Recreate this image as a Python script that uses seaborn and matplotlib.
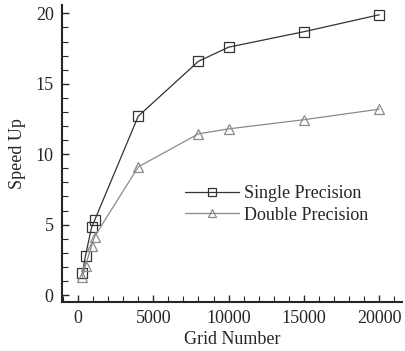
import pandas as pd
import seaborn as sns
import matplotlib.pyplot as plt
from matplotlib.ticker import MultipleLocator

grid = [300, 500, 900, 1100, 4000, 8000, 10000, 15000, 20000]
single = [1.6, 2.8, 4.8, 5.3, 12.7, 16.6, 17.6, 18.7, 19.9]
double = [1.3, 2.1, 3.5, 4.15, 9.1, 11.45, 11.8, 12.45, 13.2]
labels = ['Single Precision', 'Double Precision']
colors = ['#333333', '#8a8a8a']

df = pd.DataFrame({
    'Grid Number': grid * 2,
    'Speed Up': single + double,
    'Precision': [labels[0]] * len(grid) + [labels[1]] * len(grid),
})

sns.set_style('ticks')
plt.rcParams['font.family'] = ['Liberation Serif', 'DejaVu Serif']
plt.rcParams['xtick.direction'] = 'in'
plt.rcParams['ytick.direction'] = 'in'

fig = plt.figure(figsize=(4.05, 3.51), dpi=100)
ax = fig.add_axes([0.153, 0.14, 0.84, 0.846])

sns.lineplot(data=df, x='Grid Number', y='Speed Up', hue='Precision', style='Precision',
             markers=['s', '^'], dashes=False, palette=colors,
             markerfacecolor='none', markersize=7.5, markeredgewidth=0.9, linewidth=0.9,
             ax=ax)
for line, c in zip(ax.get_lines(), colors):
    line.set_markeredgecolor(c)

ax.set_xlim(-1063, 21520)
ax.set_ylim(-0.48, 20.6)
ax.xaxis.set_major_locator(MultipleLocator(5000))
ax.xaxis.set_minor_locator(MultipleLocator(1000))
ax.yaxis.set_major_locator(MultipleLocator(5))
ax.yaxis.set_minor_locator(MultipleLocator(1))
ax.tick_params(which='major', length=5, width=1, labelsize=13, pad=6)
ax.tick_params(which='minor', length=4, width=0.8)
sns.despine(ax=ax)
for s in ['left', 'bottom']:
    ax.spines[s].set_linewidth(1.5)

ax.set_xlabel('Grid Number', fontsize=13, labelpad=3)
ax.set_ylabel('Speed Up', fontsize=13, labelpad=7)

leg = ax.legend(frameon=False, fontsize=13, handlelength=3, handletextpad=0.25,
                labelspacing=0.25, borderpad=0, borderaxespad=0,
                loc='center left', bbox_to_anchor=(0.362, 0.328), markerscale=0.8)
for h, c in zip(leg.legend_handles, colors):
    h.set_markerfacecolor('none')
    h.set_markeredgecolor(c)

fig.savefig('out.png', dpi=100)
